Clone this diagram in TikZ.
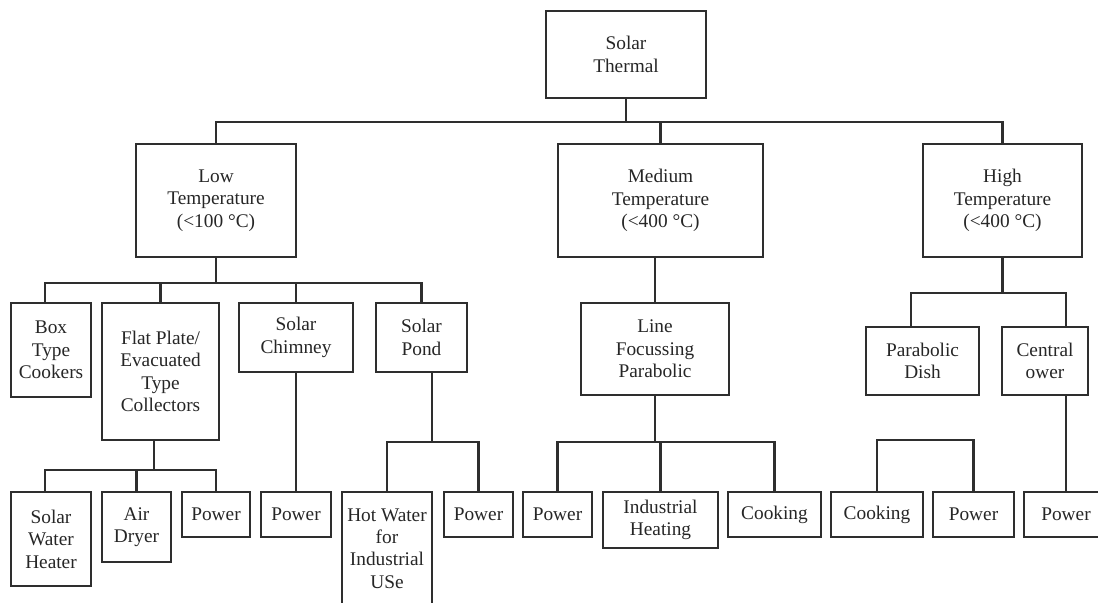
\documentclass[tikz,border=0pt]{standalone}
\usepackage{fontspec}
\setmainfont{Liberation Serif}
\usetikzlibrary{positioning}

\begin{document}
\begin{tikzpicture}[
		x=0.02cm, y=-0.02cm,
		box/.style={draw=black!82, line width=1.3pt, align=center, inner sep=1pt,
			font=\fontsize{11}{12.8}\selectfont, text=black!85},
		link/.style={draw=black!82, line width=1.3pt}
		]
		\useasboundingbox (0,0) rectangle (1098,602);
		
		% ==========================================
		% 1. Root and the three temperature ranges
		% ==========================================
		\node[box, minimum width=3.2cm, minimum height=1.74cm] (root) at (626,54.5) {Solar\\Thermal};
		
		\node[box, minimum width=3.2cm, minimum height=2.26cm] (low) at (216,200.5) {Low\\Temperature\\(<100 °C)};
		\node[box, minimum width=4.1cm, minimum height=2.26cm] (med) at (660.5,200.5) {Medium\\Temperature\\(<400 °C)};
		\node[box, minimum width=3.18cm, minimum height=2.26cm] (high) at (1002.5,200.5) {High\\Temperature\\(<400 °C)};
		
		\draw[link] (root.south) -- ++(0,23) -| (low.north);
		\draw[link] (root.south) -- ++(0,23) -| (med.north);
		\draw[link] (root.south) -- ++(0,23) -| (high.north);
		
		% ==========================================
		% 2. Low temperature branch
		% ==========================================
		\node[box, minimum width=1.6cm, minimum height=1.88cm] (cookers) at (51,350) {Box\\Type\\Cookers};
		\node[box, minimum width=2.34cm, minimum height=2.74cm] (flat) at (160.5,371.5) {Flat Plate/\\Evacuated\\Type\\Collectors};
		\node[box, minimum width=2.28cm, minimum height=1.38cm] (chimney) at (296,337.5) {Solar\\Chimney};
		\node[box, minimum width=1.82cm, minimum height=1.38cm] (pond) at (421.5,337.5) {Solar\\Pond};
		
		\draw[link] (low.south) -- ++(0,25) -| ([xshift=-0.12cm]cookers.north);
		\draw[link] (low.south) -- ++(0,25) -| (flat.north);
		\draw[link] (low.south) -- ++(0,25) -| (chimney.north);
		\draw[link] (low.south) -- ++(0,25) -| (pond.north);
		
		% flat plate uses
		\node[box, minimum width=1.6cm, minimum height=1.88cm] (heater) at (51,539) {Solar\\Water\\Heater};
		\node[box, minimum width=1.38cm, minimum height=1.4cm] (dryer) at (136.5,527) {Air\\Dryer};
		\node[box, minimum width=1.36cm, minimum height=0.9cm] (powflat) at (216,514.5) {Power};
		
		\draw[link] ([xshift=-0.13cm]flat.south) -- ++(0,29) -| ([xshift=-0.12cm]heater.north);
		\draw[link] ([xshift=-0.13cm]flat.south) -- ++(0,29) -| (dryer.north);
		\draw[link] ([xshift=-0.13cm]flat.south) -- ++(0,29) -| (powflat.north);
		
		% chimney use
		\node[box, minimum width=1.4cm, minimum height=0.9cm] (powchim) at (296,514.5) {Power};
		\draw[link] (chimney.south) -- (powchim.north);
		
		% pond uses
		\node[box, minimum width=1.8cm, minimum height=2.26cm] (hotwater) at (387,548.5) {Hot Water\\for\\Industrial\\USe};
		\node[box, minimum width=1.38cm, minimum height=0.9cm] (powpond) at (478.5,514.5) {Power};
		
		\draw[link] ([xshift=0.21cm]pond.south) -- ++(0,69) -| (hotwater.north);
		\draw[link] ([xshift=0.21cm]pond.south) -- ++(0,69) -| (powpond.north);
		
		% ==========================================
		% 3. Medium temperature branch
		% ==========================================
		\node[box, minimum width=2.96cm, minimum height=1.84cm] (linefocus) at (655,349) {Line\\Focussing\\Parabolic};
		\draw[link] (linefocus.north) -- (linefocus.north |- med.south);
		
		\node[box, minimum width=1.38cm, minimum height=0.9cm] (powmed) at (557.5,514.5) {Power};
		\node[box, minimum width=2.3cm, minimum height=1.12cm] (indheat) at (660.5,520) {Industrial\\Heating};
		\node[box, minimum width=1.86cm, minimum height=0.9cm] (cookmed) at (774.5,514.5) {Cooking};
		
		\draw[link] (linefocus.south) -- ++(0,46) -| (powmed.north);
		\draw[link] (linefocus.south) -- ++(0,46) -| (indheat.north);
		\draw[link] (linefocus.south) -- ++(0,46) -| (cookmed.north);
		
		% ==========================================
		% 4. High temperature branch
		% ==========================================
		\node[box, minimum width=2.26cm, minimum height=1.36cm] (dish) at (922.5,361) {Parabolic\\Dish};
		\node[box, minimum width=1.72cm, minimum height=1.36cm] (tower) at (1045,361) {Central\\ower};
		
		\draw[link] (high.south) -- ++(0,35) -| ([xshift=-0.23cm]dish.north);
		\draw[link] (high.south) -- ++(0,35) -| ([xshift=0.42cm]tower.north);
		
		\node[box, minimum width=1.84cm, minimum height=0.9cm] (cookhigh) at (877,514.5) {Cooking};
		\node[box, minimum width=1.62cm, minimum height=0.9cm] (powhigh) at (973.5,514.5) {Power};
		\node[box, minimum width=1.68cm, minimum height=0.9cm] (powtower) at (1066,514.5) {Power};
		
		% bracket over cooking and power
		\draw[link] (cookhigh.north) -- ++(0,-51) -| (powhigh.north);
		\draw[link] (powtower.north) -- (powtower.north |- tower.south);
		
	\end{tikzpicture}
\end{document}
